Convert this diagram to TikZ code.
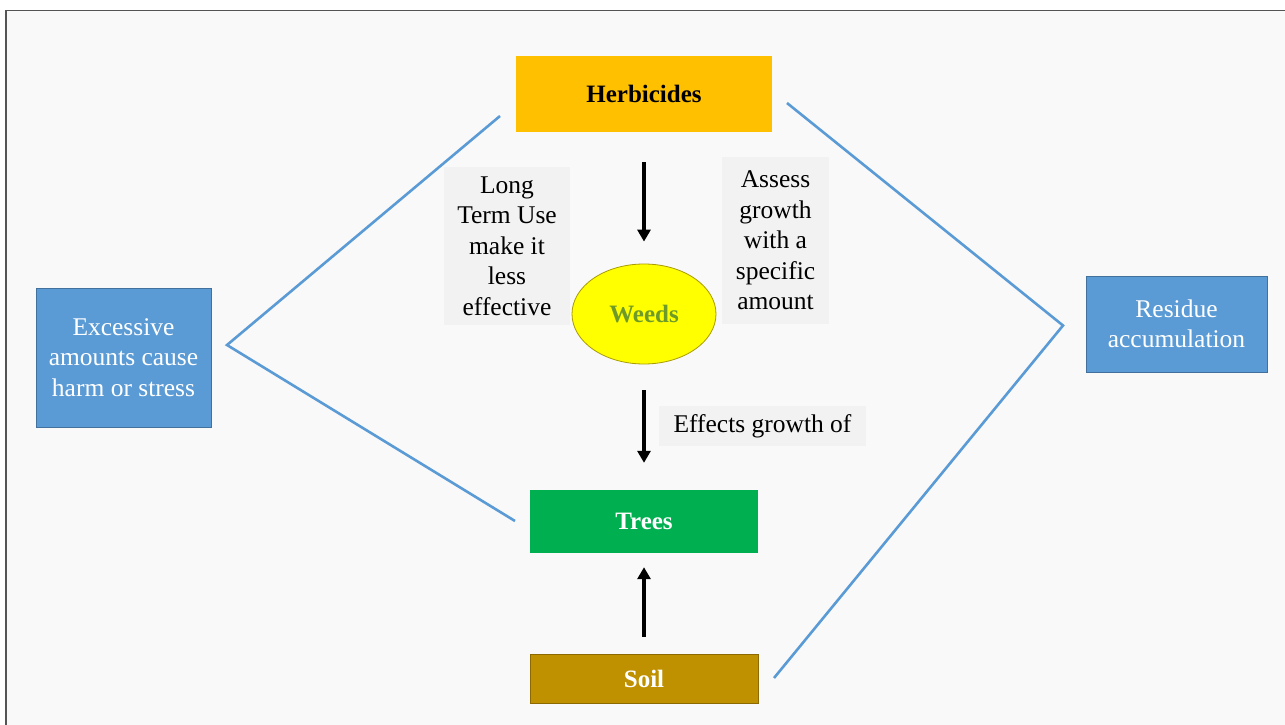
\documentclass[tikz,border=0pt]{standalone}
\usepackage{fontspec}
\setmainfont{Liberation Serif}
\usetikzlibrary{arrows.meta,shapes.geometric}
\definecolor{bg}{HTML}{F9F9F9}
\definecolor{frame}{HTML}{555555}
\definecolor{herbc}{HTML}{FFC000}
\definecolor{treec}{HTML}{00B050}
\definecolor{soilc}{HTML}{BF9000}
\definecolor{soilb}{HTML}{8C6A00}
\definecolor{bluec}{HTML}{5B9BD5}
\definecolor{blueb}{HTML}{41719C}
\definecolor{linec}{HTML}{5B9BD5}
\definecolor{grayc}{HTML}{F2F2F2}
\definecolor{weedc}{HTML}{FFFF00}
\definecolor{weedb}{HTML}{A89A00}
\definecolor{weedt}{HTML}{6E9A2A}
\tikzset{
  reg/.style={font=\fontsize{25.5}{30.5}\selectfont},
  bld/.style={font=\fontsize{25}{30}\selectfont\bfseries},
  box/.style={rectangle, inner sep=0pt, align=center},
  note/.style={box, reg, fill=grayc, text=black},
  sidebox/.style={box, reg, fill=bluec, draw=blueb, line width=0.8pt, text=white},
  flow/.style={line width=3.6pt, -{Triangle[width=13pt,length=12pt]}},
  blueline/.style={draw=linec, line width=2.6pt},
}
\begin{document}
\begin{tikzpicture}[x=1pt,y=-1pt]
\useasboundingbox (0,0) rectangle (1285,725);
\fill[white] (0,0) rectangle (1285,725);
\fill[bg] (6,10.5) rectangle (1285,725);
\draw[frame, line width=1.6pt] (6,725) -- (6,10.5) -- (1285,10.5);

% nodes
\node[box, bld, fill=herbc, text=black, minimum width=256pt, minimum height=76pt] (herb) at (644,94) {Herbicides};
\node[note, minimum width=126pt, minimum height=158pt] (long) at (507,246) {Long\\Term Use\\make it\\less\\effective};
\node[note, minimum width=107pt, minimum height=167pt] (assess) at (775.5,240.5) {Assess\\growth\\with a\\specific\\amount};
\node[ellipse, inner sep=0pt, fill=weedc, draw=weedb, line width=0.8pt, minimum width=144pt, minimum height=100pt, bld, text=weedt] (weeds) at (644,314) {Weeds};
\node[note, minimum width=207pt, minimum height=40pt] (effects) at (762.5,426) {\raisebox{-2pt}{Effects growth of}};
\node[box, bld, fill=treec, text=white, minimum width=228pt, minimum height=63pt] (trees) at (644,521.5) {Trees};
\node[box, bld, fill=soilc, draw=soilb, line width=0.8pt, text=white, minimum width=228pt, minimum height=49pt] (soil) at (644,678.5) {Soil};
\node[sidebox, minimum width=175pt, minimum height=139pt] (excess) at (123.5,357.5) {Excessive\\amounts cause\\harm or stress};
\node[sidebox, minimum width=181pt, minimum height=96pt] (residue) at (1176.5,324) {Residue\\accumulation};

% arrows
\draw[flow, shorten <=30pt, shorten >=22pt] (herb.south) -- (weeds.north);
\draw[flow, shorten <=26pt, shorten >=27pt] (weeds.south) -- (trees.north);
\draw[flow, shorten <=17pt, shorten >=14pt] (soil.north) -- (trees.south);

% blue lines
\coordinate (la) at (500,116);
\coordinate (lv) at (227,345);
\coordinate (lb) at (515,521);
\coordinate (ra) at (787,103);
\coordinate (rv) at (1063,325.5);
\coordinate (rb) at (774,678);
\draw[blueline] (la) -- (lv) -- (lb);
\draw[blueline] (ra) -- (rv) -- (rb);
\end{tikzpicture}
\end{document}
